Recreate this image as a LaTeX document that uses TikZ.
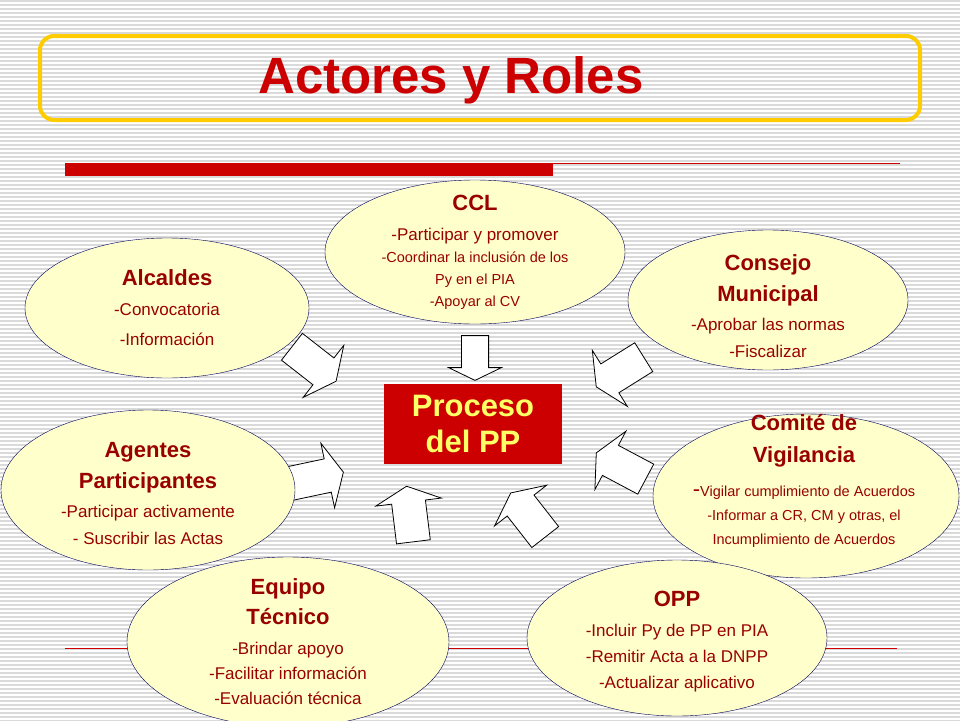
\documentclass[tikz,border=0pt]{standalone}
\usepackage{fontspec}
\setmainfont{Liberation Sans}
\usetikzlibrary{positioning, shapes.geometric}

\definecolor{rolefill}{HTML}{FFFFCC}
\definecolor{rolered}{HTML}{990000}
\definecolor{titlered}{HTML}{CC0000}
\definecolor{boxyellow}{HTML}{FFCC00}
\definecolor{pptext}{HTML}{FFFF66}
\definecolor{stripe}{HTML}{DADADA}

\newcommand{\hd}[1]{{\fontsize{22}{22}\selectfont\bfseries #1}}
\newcommand{\bd}[1]{{\fontsize{17}{17}\selectfont #1}}
\newcommand{\sm}[1]{{\fontsize{14.5}{14.5}\selectfont #1}}

\tikzset{
  role/.style={ellipse, draw=blue!35!black, fill=rolefill, inner sep=0pt},
  roletext/.style={text=rolered, align=center, inner sep=0pt},
  blockarrow/.pic={
    \draw[fill=white, line width=0.8pt, line join=miter]
      (-28,-17) -- (12,-17) -- (12,-33) -- (28,0) -- (12,33) -- (12,17) -- (-28,17) -- cycle;
  }
}

\begin{document}
\begin{tikzpicture}[x=1pt,y=1pt]
\useasboundingbox (0,0) rectangle (960,-720);
\clip (0,0) rectangle (960,-720);

% stripes
\foreach \k in {0,...,180}
  \draw[stripe, line width=1.4pt] (0,-\k*4-1) -- (960,-\k*4-1);

% title
\draw[boxyellow, line width=4pt, rounded corners=14pt]
  (40,-36) rectangle (920,-120);
\node[text=titlered, font=\fontsize{51}{56}\selectfont\bfseries] (title) at (451,-80) {Actores y Roles};

% rules
\draw[titlered, line width=0.8pt] (65,-163) -- (900,-163);
\fill[titlered] (65,-163) rectangle (553,-176);
\draw[titlered, line width=0.8pt] (65,-648) -- (897,-648);

% centre
\node[fill=titlered, text=pptext, minimum width=178pt, minimum height=80pt,
  align=center, font=\fontsize{31}{36}\selectfont\bfseries] (pp) at (473,-424) {Proceso\\del PP};

% arrows
\pic[scale=0.8, rotate=-90] at (475,-358) {blockarrow};
\pic[rotate=-38] at (314,-364) {blockarrow};
\pic[rotate=-148] at (620,-372) {blockarrow};
\pic[rotate=12] at (316,-478) {blockarrow};
\pic[rotate=152] at (621,-466) {blockarrow};
\pic[rotate=97] at (410,-514) {blockarrow};
\pic[rotate=128] at (528,-515) {blockarrow};

% roles
\node[role, minimum width=300pt, minimum height=144pt] (ccl) at (475,-252) {};
\node[roletext, font=\fontsize{15}{22}\selectfont] (ccl-t) at (ccl.center)
  {\hd{CCL}\\[8pt]\bd{-Participar y promover}\\\sm{-Coordinar la inclusión de los}\\\sm{Py en el PIA}\\\sm{-Apoyar al CV}};
\node[role, minimum width=284pt, minimum height=140pt] (alc) at (167,-308) {};
\node[roletext, font=\fontsize{17}{30}\selectfont] (alc-t) at (alc.center)
  {\hd{Alcaldes}\\\bd{-Convocatoria}\\\bd{-Información}};
\node[role, minimum width=280pt, minimum height=140pt] (cm) at (768,-300) {};
\node[roletext, font=\fontsize{17}{27}\selectfont] (cm-t) at (768,-306)
  {\hd{Consejo}\\[4pt]\hd{Municipal}\\[2pt]\bd{-Aprobar las normas}\\\bd{-Fiscalizar}};
\node[role, minimum width=294pt, minimum height=160pt] (ag) at (148,-490) {};
\node[roletext, font=\fontsize{17}{27}\selectfont] (ag-t) at (148,-494)
  {\hd{Agentes}\\[4pt]\hd{Participantes}\\[2pt]\bd{-Participar activamente}\\\bd{- Suscribir las Actas}};
\node[role, minimum width=306pt, minimum height=164pt] (cv) at (806,-496) {};
\node[roletext, font=\fontsize{15}{24}\selectfont] (cv-t) at (804,-481)
  {\hd{Comité de}\\[8pt]\hd{Vigilancia}\\[10pt]{\fontsize{22}{22}\selectfont-}\sm{Vigilar cumplimiento de Acuerdos}\\\sm{-Informar a CR, CM y otras, el}\\\sm{Incumplimiento de Acuerdos}};
\node[role, minimum width=322pt, minimum height=170pt] (et) at (288,-642) {};
\node[roletext, font=\fontsize{17}{25}\selectfont] (et-t) at (288,-642)
  {\hd{Equipo}\\[5pt]\hd{Técnico}\\[5pt]\bd{-Brindar apoyo}\\\bd{-Facilitar información}\\\bd{-Evaluación técnica}};
\node[role, minimum width=300pt, minimum height=156pt] (opp) at (677,-638) {};
\node[roletext, font=\fontsize{17}{26}\selectfont] (opp-t) at (677,-642)
  {\hd{OPP}\\[4pt]\bd{-Incluir Py de PP en PIA}\\\bd{-Remitir Acta a la DNPP}\\\bd{-Actualizar aplicativo}};
\end{tikzpicture}
\end{document}
